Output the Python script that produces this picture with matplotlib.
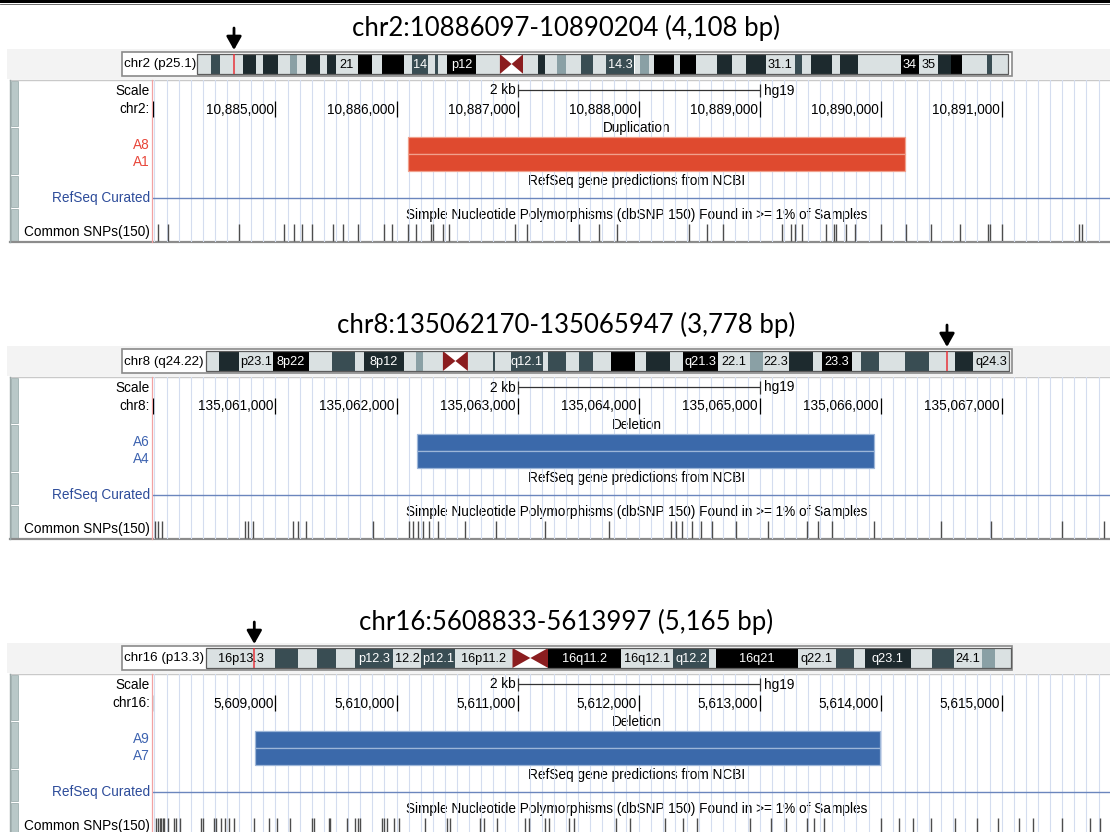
import numpy as np
import matplotlib
matplotlib.use('Agg')
import matplotlib.pyplot as plt
from matplotlib.patches import Rectangle, Polygon
from matplotlib.ticker import MultipleLocator

plt.rcParams['font.family'] = ['Liberation Sans', 'DejaVu Sans']

# ---------------- data ----------------
TITLES = ["chr2:10886097-10890204 (4,108 bp)",
          "chr8:135062170-135065947 (3,778 bp)",
          "chr16:5608833-5613997 (5,165 bp)"]
CHROM_TAGS = ["chr2 (p25.1)", "chr8 (q24.22)", "chr16 (p13.3)"]
CHROMS = ["chr2:", "chr8:", "chr16:"]
VIEW_START = [10883984, 135059984, 5607984]
VIEW_END = [10891895, 135067895, 5615895]
POS_TICKS = [
    [10885000, 10886000, 10887000, 10888000, 10889000, 10890000, 10891000],
    [135061000, 135062000, 135063000, 135064000, 135065000, 135066000, 135067000],
    [5609000, 5610000, 5611000, 5612000, 5613000, 5614000, 5615000],
]
SCALE_BARS = [(10887000, 10889000), (135063000, 135065000), (5611000, 5613000)]
CNV_TYPE = ["Duplication", "Deletion", "Deletion"]
CNV_START = [10886097, 135062170, 5608833]
CNV_END = [10890204, 135065947, 5613997]
SAMPLES = [["A8", "A1"], ["A6", "A4"], ["A9", "A7"]]

SNPS_CHR2 = [10884026, 10884109, 10884699, 10885073, 10885156, 10885221, 10885304,
             10885472, 10885561, 10885678, 10885894, 10885965, 10886091, 10886165,
             10886283, 10886304, 10886386, 10886430, 10886976, 10887079, 10887507,
             10887669, 10887825, 10888415, 10888562, 10888695, 10889187, 10889262,
             10889291, 10889350, 10889551, 10889615, 10889630, 10889713, 10889786,
             10889999, 10890206, 10890412, 10890656, 10890884, 10890904, 10891002,
             10891636, 10891665]
SNPS_CHR8 = [135060003, 135060032, 135060062, 135060746, 135060775, 135060816,
             135061143, 135061183, 135061254, 135061809, 135062101, 135062136,
             135062177, 135062218, 135062265, 135062341, 135062569, 135062820,
             135063230, 135063755, 135064270, 135064311, 135064357, 135064445,
             135064515, 135064603, 135064807, 135065070, 135065392, 135065480,
             135065596, 135065947, 135066502, 135066911, 135067496, 135067846]
SNPS_CHR16 = [5608009, 5608028, 5608045, 5608056, 5608067, 5608078, 5608111, 5608160,
              5608182, 5608215, 5608381, 5608400, 5608490, 5608510, 5608546, 5608587,
              5608614, 5608656, 5608821, 5608945, 5609014, 5609124, 5609303, 5609322,
              5609440, 5609454, 5609592, 5609661, 5609680, 5609702, 5609881, 5609894,
              5609922, 5609977, 5610018, 5610239, 5610418, 5610445, 5610693, 5610720,
              5610831, 5611065, 5611092, 5611230, 5611257, 5611422, 5611463, 5611816,
              5611932, 5612221, 5612369, 5612485, 5612923, 5613096, 5613220, 5613393,
              5613451, 5613534, 5614004, 5614153, 5614269, 5614417, 5614615, 5614797,
              5614971, 5615144, 5615260, 5615499, 5615730, 5615813]
SNPS = [SNPS_CHR2, SNPS_CHR8, SNPS_CHR16]

# ideogram bands: (start, end, stain, label) along the drawn chromosome
IDEO_CHR2 = [
    (0, 14, 'n', ''), (14, 23.4, 's', ''), (23.4, 45.7, 'n', ''), (45.7, 59.4, 'd', ''),
    (59.4, 65.5, 'n', ''), (65.5, 80.9, 'd', ''), (80.9, 93.2, 'n', ''), (93.2, 100.4, 'm', ''),
    (100.4, 108.6, 'n', ''), (108.6, 123, 'd', ''), (123, 130.2, 'n', ''), (130.2, 139.2, 'd', ''),
    (139.2, 160.8, 'n', '21'), (160.8, 175.2, 'k', ''), (175.2, 185.3, 'n', ''),
    (185.3, 206.8, 'k', ''), (206.8, 214.7, 'n', ''), (214.7, 230.9, 's', '14'),
    (230.9, 238.1, 'n', ''), (238.1, 240.6, 's', ''), (240.6, 250, 'n', ''),
    (250, 279.5, 'k', 'p12'), (279.5, 302.9, 'n', ''), (302.9, 326.3, 'c', ''),
    (326.3, 340.7, 'n', ''), (340.7, 347.8, 'd', ''), (347.8, 360.2, 'n', ''),
    (360.2, 369.2, 'm', ''), (369.2, 383.6, 'n', ''), (383.6, 396.2, 's', ''),
    (396.2, 408.8, 'n', ''), (408.8, 437.5, 's', '14.3'), (437.5, 442.9, 'n', ''),
    (442.9, 451.9, 'm', ''), (451.9, 457.3, 'n', ''), (457.3, 477.1, 'k', ''),
    (477.1, 483.2, 'n', ''), (483.2, 498.7, 'k', ''), (498.7, 520.3, 'n', ''),
    (520.3, 534.7, 'd', ''), (534.7, 549, 'n', ''), (549, 568.8, 'd', ''),
    (568.8, 597.6, 'n', '31.1'), (597.6, 604.8, 's', ''), (604.8, 613.8, 'n', ''),
    (613.8, 635.4, 'd', ''), (635.4, 642.6, 'n', ''), (642.6, 660.6, 'd', ''),
    (660.6, 703.7, 'n', ''), (703.7, 721.7, 'k', '34'), (721.7, 741.5, 'n', '35'),
    (741.5, 754.1, 'd', ''), (754.1, 764.9, 'k', ''), (764.9, 790.1, 'n', ''),
    (790.1, 795.4, 's', ''), (795.4, 811, 'n', ''),
]
IDEO_CHR8 = [
    (0, 12.2, 'n', ''), (12.2, 32.2, 'd', ''), (32.2, 66.8, 'n', 'p23.1'),
    (66.8, 102.5, 'k', '8p22'), (102.5, 125.7, 'n', ''), (125.7, 149, 's', ''),
    (149, 157.2, 'n', ''), (157.2, 197.2, 'd', '8p12'), (197.2, 209.7, 'n', ''),
    (209.7, 216.8, 'm', ''), (216.8, 236.5, 'n', ''), (236.5, 261.5, 'c', ''),
    (261.5, 286.5, 'n', ''), (286.5, 288.2, 's', ''), (288.2, 304.3, 'n', ''),
    (304.3, 336.5, 's', 'q12.1'), (336.5, 341.8, 'n', ''), (341.8, 359.6, 's', ''),
    (359.6, 372.2, 'n', ''), (372.2, 386.5, 's', ''), (386.5, 405, 'n', ''),
    (405, 428.6, 'k', ''), (428.6, 439.3, 'n', ''), (439.3, 463.2, 'd', ''),
    (463.2, 476.5, 'n', ''), (476.5, 511.5, 'k', 'q21.3'), (511.5, 543.6, 'n', '22.1'),
    (543.6, 556.1, 'm', ''), (556.1, 582.9, 'n', '22.3'), (582.9, 606.1, 'd', ''),
    (606.1, 615.7, 'n', ''), (615.7, 645.4, 'k', '23.3'), (645.4, 654.3, 'n', ''),
    (654.3, 672.2, 's', ''), (672.2, 699, 'n', ''), (699, 722.2, 's', ''),
    (722.2, 749, 'n', ''), (749, 766.8, 'd', ''), (766.8, 802.5, 'n', 'q24.3'),
]
IDEO_CHR16 = [
    (0, 68.6, 'n', '16p13.3'), (68.6, 91.8, 's', ''), (91.8, 110.7, 'n', ''),
    (110.7, 129.3, 's', ''), (129.3, 149, 'n', ''), (149, 186.5, 's', 'p12.3'),
    (186.5, 215, 'n', '12.2'), (215, 249, 's', 'p12.1'), (249, 306.1, 'n', '16p11.2'),
    (306.1, 341.8, 'c', ''), (341.8, 415, 'k', '16q11.2'), (415, 466.8, 'n', '16q12.1'),
    (466.8, 502.5, 's', 'q12.2'), (502.5, 509.7, 'n', ''), (509.7, 591.8, 'k', '16q21'),
    (591.8, 629.3, 'n', 'q22.1'), (629.3, 647.2, 's', ''), (647.2, 658.6, 'n', ''),
    (658.6, 704.3, 'd', 'q23.1'), (704.3, 725.7, 'n', ''), (725.7, 747.2, 's', ''),
    (747.2, 775.7, 'n', '24.1'), (775.7, 788.2, 'm', ''), (788.2, 804.3, 'n', ''),
]
IDEOS = [IDEO_CHR2, IDEO_CHR8, IDEO_CHR16]
IDEO_MARK = [37, 740.6, 47.9]

# ---------------- style / layout ----------------
STAIN_COLOR = {'n': '#dae1e2', 'm': '#8aa0a5', 's': '#394d53', 'd': '#1d2a2e',
               'k': '#000000', 'c': '#ffffff'}
STAIN_TEXT = {'n': 'black', 'm': 'black', 's': 'white', 'd': 'white', 'k': 'white', 'c': 'black'}
CNV_COLOR = {"Duplication": '#df4a2f', "Deletion": '#3b69aa'}
CNV_EDGE = {"Duplication": '#f0a08c', "Deletion": '#9db6d8'}
LABEL_COLOR = {"Duplication": '#e8463a', "Deletion": '#3d63b0'}

W, H = 1110, 832
fig = plt.figure(figsize=(W / 100, H / 100), dpi=100)


def px_axes(x0, y0, x1, y1):
    return fig.add_axes([x0 / W, 1 - y1 / H, (x1 - x0) / W, (y1 - y0) / H])


bg = px_axes(0, 0, W, H)
bg.set_xlim(0, W)
bg.set_ylim(H, 0)
bg.axis('off')

# top rule
bg.add_patch(Rectangle((0, 0), W, 2.5, color='black', lw=0))
bg.plot([0, W], [4, 4], color='#555555', lw=0.6)

PANEL_DY = [0, 297, 594]
IDEO_X0 = [197, 206.4, 206.4]
TXT = 9.8

for i in range(3):
    dy = PANEL_DY[i]
    top, bot = 80 + dy, 242 + dy

    # title
    bg.text(566, 28 + dy, TITLES[i], ha='center', va='center', fontsize=18.5,
            family=['Lato', 'DejaVu Sans'])

    # ideogram strip + box
    bg.add_patch(Rectangle((7, 49 + dy), W - 7, 30, color='#f3f3f3', lw=0))
    bg.add_patch(Rectangle((122, 52 + dy), 890, 24, facecolor='white',
                           edgecolor='#8a8a8a', lw=1.2))
    bg.text(124, 64.5 + dy, CHROM_TAGS[i], ha='left', va='center', fontsize=9.6)

    bands = IDEOS[i]
    length = bands[-1][1]
    x0 = IDEO_X0[i]
    ia = px_axes(x0, 54 + dy, x0 + length, 74 + dy)
    ia.set_xlim(0, length)
    ia.set_ylim(0, 1)
    ia.axis('off')
    for (s, e, st, lab) in bands:
        ia.barh(0.5, e - s, left=s, height=1, color=STAIN_COLOR[st], lw=0)
        if st == 'c':
            mid = (s + e) / 2
            ia.add_patch(Polygon([(s, 0), (s, 1), (mid, 0.5)], closed=True,
                                 color='#8b1d1f', lw=0))
            ia.add_patch(Polygon([(e, 0), (e, 1), (mid, 0.5)], closed=True,
                                 color='#8b1d1f', lw=0))
        if lab:
            ia.text((s + e) / 2, 0.45, lab, ha='center', va='center', fontsize=9.2,
                    color=STAIN_TEXT[st])
    ia.add_patch(Rectangle((0, 0), length, 1, fill=False, edgecolor='#5c5c5c',
                           lw=0.9, clip_on=False))
    mk = IDEO_MARK[i]
    ia.vlines(mk, 0, 1, color='#e8333a', lw=1.1)
    ia.annotate('', xy=(mk, 1.2), xytext=(mk, 2.3),
                arrowprops=dict(arrowstyle='-|>,head_width=0.45,head_length=0.8',
                                color='black', lw=2, shrinkA=0, shrinkB=0),
                annotation_clip=False)

    # panel frame
    bg.add_patch(Rectangle((10, top), W - 10, bot - top, facecolor='white',
                           edgecolor='none'))
    bg.plot([10, W], [top, top], color='#c9c9c9', lw=1)
    bg.plot([10, W], [bot, bot], color='#8c8c8c', lw=1.6)
    bg.plot([10, 10], [top, bot], color='#9aa8a8', lw=1)
    for (a, b) in [(1, 46), (48, 94), (96, 127), (129, 161)]:
        bg.add_patch(Rectangle((10.5, top + a), 7, b - a, facecolor='#b9c8c8',
                               edgecolor='#9fb0b0', lw=0.6))
    bg.plot([152, 152], [top, bot], color='#f2a2a2', lw=0.9)

    # left labels
    bg.text(150, top + 11, "Scale", ha='right', va='center', fontsize=TXT)
    bg.text(150, top + 29, CHROMS[i], ha='right', va='center', fontsize=TXT)
    lc = LABEL_COLOR[CNV_TYPE[i]]
    bg.text(150, top + 65, SAMPLES[i][0], ha='right', va='center', fontsize=TXT, color=lc)
    bg.text(150, top + 82, SAMPLES[i][1], ha='right', va='center', fontsize=TXT, color=lc)
    bg.text(150, top + 118, "RefSeq Curated", ha='right', va='center', fontsize=TXT,
            color='#2d4c9a')
    bg.text(150, top + 152, "Common SNPs(150)", ha='right', va='center', fontsize=TXT)

    # centre labels
    bg.text(637, top + 48, CNV_TYPE[i], ha='center', va='center', fontsize=TXT)
    bg.text(637, top + 101, "RefSeq gene predictions from NCBI", ha='center',
            va='center', fontsize=TXT)
    bg.text(637, top + 135,
            "Simple Nucleotide Polymorphisms (dbSNP 150) Found in >= 1% of Samples",
            ha='center', va='center', fontsize=TXT)

    # genomic track axes
    ax = px_axes(152.5, top, W, bot)
    ax.set_xlim(VIEW_START[i], VIEW_END[i])
    ax.set_ylim(162, 0)
    ax.set_facecolor('none')
    for sp in ax.spines.values():
        sp.set_visible(False)
    ax.xaxis.set_major_locator(MultipleLocator(100))
    ax.tick_params(which='both', length=0, labelbottom=False, labelleft=False)
    ax.set_yticks([])
    ax.grid(axis='x', color='#d4ddef', lw=0.8)
    ax.set_axisbelow(True)

    # base position ruler
    ax.vlines(POS_TICKS[i], 21, 37, color='black', lw=0.9)
    ax.vlines(VIEW_START[i], 21, 37, color='black', lw=0.9)
    for t in POS_TICKS[i]:
        ax.annotate(f"{t:,}", (t, 29.5), xytext=(-1.5, 0), textcoords='offset points',
                    ha='right', va='center', fontsize=TXT)
    s0, s1 = SCALE_BARS[i]
    ax.hlines(10, s0, s1, color='#333333', lw=0.9)
    ax.vlines([s0, s1], 4, 17, color='#333333', lw=0.9)
    ax.annotate(f"{(s1 - s0) // 1000} kb", (s0, 10.5), xytext=(-1.5, 0),
                textcoords='offset points', ha='right', va='center', fontsize=TXT)
    ax.annotate("hg19", (s1, 10.5), xytext=(3, 0), textcoords='offset points',
                ha='left', va='center', fontsize=TXT)

    # CNV bars
    w = CNV_END[i] - CNV_START[i]
    ax.barh([65.5, 82.5], [w, w], left=CNV_START[i], height=17,
            color=CNV_COLOR[CNV_TYPE[i]], edgecolor=CNV_EDGE[CNV_TYPE[i]], lw=0.9)

    # RefSeq line
    ax.axhline(118, color='#6b86bd', lw=1)

    # SNPs
    ax.vlines(SNPS[i], 144, 161, color='#4d4d4d', lw=1)

fig.savefig('out.png', dpi=100)
